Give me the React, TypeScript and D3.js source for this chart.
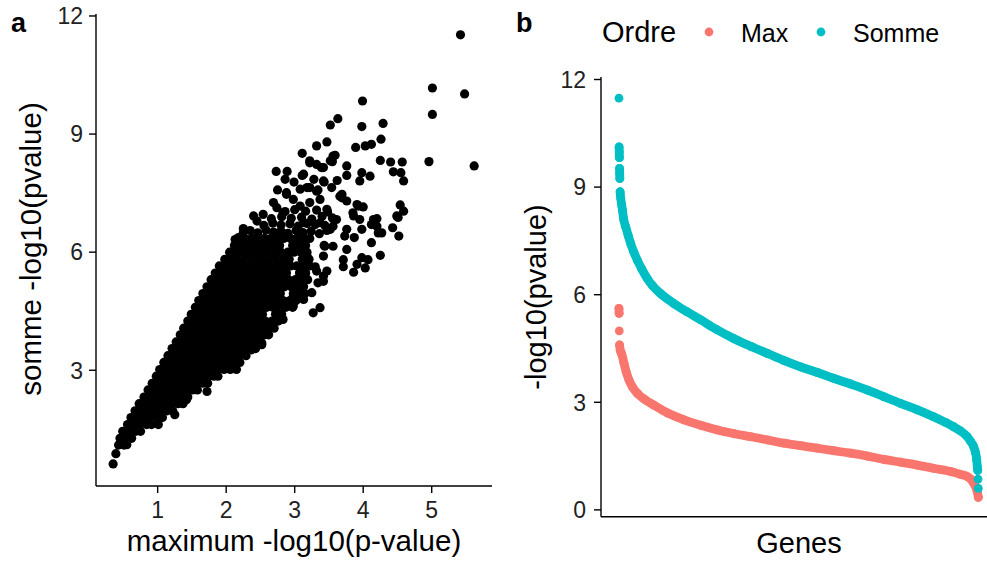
import React from "react";
import * as d3 from "d3";

// ---------- Panel a data ----------
const denseRowY: number[] = [1.10, 1.27, 1.45, 1.62, 1.80, 1.97, 2.15, 2.32, 2.50, 2.67, 2.85, 3.02, 3.20, 3.37, 3.55, 3.72, 3.90, 4.07, 4.25, 4.42, 4.60, 4.77, 4.95, 5.12, 5.30, 5.47, 5.65, 5.82, 6.00, 6.17, 6.35];
const denseRowX: number[][] = [
  [0.43, 0.51],
  [0.45, 0.54, 0.62],
  [0.49, 0.59, 0.68, 0.75],
  [0.56, 0.65, 0.74, 0.84, 0.91],
  [0.61, 0.71, 0.80, 0.89, 0.99, 1.07],
  [0.67, 0.77, 0.86, 0.95, 1.05, 1.14, 1.22],
  [0.73, 0.83, 0.92, 1.02, 1.11, 1.20, 1.30, 1.37],
  [0.80, 0.89, 0.98, 1.08, 1.17, 1.27, 1.36, 1.44],
  [0.86, 0.95, 1.05, 1.14, 1.23, 1.33, 1.42, 1.51, 1.58],
  [0.92, 1.01, 1.10, 1.20, 1.29, 1.39, 1.48, 1.57, 1.66, 1.73],
  [0.98, 1.07, 1.16, 1.26, 1.35, 1.45, 1.54, 1.64, 1.73, 1.82, 1.88],
  [1.03, 1.12, 1.22, 1.31, 1.41, 1.50, 1.60, 1.69, 1.79, 1.88, 1.97, 2.06],
  [1.09, 1.18, 1.28, 1.37, 1.47, 1.56, 1.66, 1.75, 1.85, 1.94, 2.04, 2.13, 2.20],
  [1.15, 1.24, 1.34, 1.43, 1.53, 1.62, 1.72, 1.81, 1.91, 2.00, 2.10, 2.19, 2.29],
  [1.21, 1.30, 1.40, 1.49, 1.59, 1.68, 1.78, 1.87, 1.97, 2.06, 2.16, 2.25, 2.35, 2.43],
  [1.27, 1.36, 1.46, 1.55, 1.65, 1.74, 1.84, 1.93, 2.03, 2.12, 2.22, 2.31, 2.41, 2.50],
  [1.33, 1.42, 1.51, 1.61, 1.70, 1.80, 1.89, 1.99, 2.08, 2.18, 2.27, 2.37, 2.46, 2.56, 2.62],
  [1.38, 1.47, 1.57, 1.66, 1.76, 1.85, 1.95, 2.04, 2.14, 2.23, 2.33, 2.42, 2.52, 2.61, 2.70],
  [1.44, 1.53, 1.62, 1.72, 1.81, 1.91, 2.00, 2.10, 2.19, 2.29, 2.38, 2.48, 2.57, 2.67, 2.76],
  [1.49, 1.58, 1.68, 1.77, 1.87, 1.96, 2.06, 2.15, 2.25, 2.34, 2.44, 2.53, 2.72, 2.81],
  [1.55, 1.64, 1.73, 1.83, 1.92, 2.02, 2.11, 2.21, 2.30, 2.40, 2.49, 2.59, 2.68, 2.78, 2.87, 2.97],
  [1.60, 1.69, 1.79, 1.88, 1.98, 2.07, 2.17, 2.26, 2.36, 2.45, 2.55, 2.64, 2.74, 2.83, 2.93, 3.02],
  [1.66, 1.75, 1.84, 1.94, 2.03, 2.13, 2.22, 2.32, 2.41, 2.51, 2.60, 2.70, 2.79, 2.98, 3.07, 3.15],
  [1.72, 1.81, 1.90, 2.00, 2.09, 2.19, 2.28, 2.38, 2.47, 2.57, 2.66, 2.76, 2.85, 2.95, 3.04, 3.13],
  [1.78, 1.87, 1.96, 2.06, 2.15, 2.25, 2.34, 2.44, 2.53, 2.63, 2.72, 2.82, 2.91, 3.01, 3.10, 3.19],
  [1.84, 1.93, 2.02, 2.12, 2.21, 2.31, 2.40, 2.50, 2.59, 2.69, 2.78, 2.88, 3.07, 3.16],
  [1.90, 1.99, 2.08, 2.18, 2.27, 2.37, 2.46, 2.56, 2.65, 2.75, 2.84, 2.94, 3.03, 3.13, 3.22],
  [1.98, 2.07, 2.16, 2.26, 2.35, 2.45, 2.54, 2.64, 2.73, 2.83, 2.92, 3.11, 3.21],
  [2.05, 2.14, 2.23, 2.33, 2.42, 2.52, 2.61, 2.71, 2.80, 2.90, 2.99, 3.09, 3.18],
  [2.12, 2.21, 2.30, 2.40, 2.49, 2.59, 2.68, 2.78, 2.97, 3.06, 3.16],
  [2.18, 2.27, 2.37, 2.46, 2.56, 2.65, 2.75, 2.84, 2.94, 3.03, 3.13, 3.22],
];

const sparsePoints: [number, number][] = [
  [0.35, 0.62], [0.39, 0.88], [0.55, 1.11], [1.01, 1.62], [1.25, 1.87], [1.42, 2.25], [1.72, 2.46],
  [2.15, 3.02], [2.52, 3.65], [2.37, 3.52], [2.52, 3.69], [2.83, 4.29], [2.79, 4.41], [2.98, 4.63], [2.98, 4.88],
  [3.13, 4.80], [3.25, 4.97], [3.37, 4.59], [3.27, 4.46], [3.34, 5.22], [3.42, 5.39], [3.42, 5.26],
  [3.47, 5.52], [3.32, 5.52], [3.30, 5.63], [3.18, 5.90], [3.42, 5.90], [3.71, 5.63], [3.71, 5.81],
  [3.76, 6.07], [3.86, 5.49], [3.91, 5.69], [3.98, 5.86], [4.03, 5.60], [4.07, 5.81], [4.25, 5.92],
  [3.44, 6.15], [3.56, 6.15], [3.43, 6.17], [4.12, 6.24], [3.73, 6.41], [3.87, 6.37], [4.22, 6.49],
  [4.27, 6.49], [4.52, 6.41], [3.76, 6.58], [3.98, 6.58], [3.52, 6.58], [3.56, 6.66], [4.20, 6.66],
  [4.43, 6.62], [4.12, 6.70], [3.37, 6.75], [3.13, 6.75], [3.61, 6.83], [3.95, 6.83], [4.15, 6.83],
  [4.20, 6.85], [3.86, 6.92], [4.49, 6.92], [4.51, 6.88], [3.85, 7.00], [4.59, 7.04], [3.47, 7.09],
  [3.08, 7.17], [3.93, 7.17], [4.00, 7.15], [4.54, 7.20], [3.91, 7.21], [3.22, 7.26], [2.98, 7.34],
  [3.37, 7.34], [3.76, 7.30], [3.69, 7.38], [3.66, 7.42], [3.69, 7.47],
  [2.25, 6.60], [2.13, 6.32], [2.18, 6.37], [2.45, 6.79], [2.40, 6.92], [2.54, 6.96], [2.69, 7.26],
  [2.74, 7.13], [2.83, 7.00], [2.75, 7.58], [2.88, 7.51], [2.88, 7.47], [3.08, 7.60], [3.18, 7.64],
  [3.22, 7.64], [3.32, 7.55], [3.34, 7.58], [3.54, 7.64], [2.73, 8.05], [2.89, 8.05], [2.86, 7.85],
  [2.99, 7.78], [3.11, 7.95], [3.13, 7.98], [3.28, 7.85], [3.42, 7.81], [3.43, 7.78], [3.62, 7.82],
  [3.39, 8.15], [3.42, 8.15], [3.22, 8.27], [3.22, 8.32], [3.32, 8.23], [3.52, 8.32], [3.55, 8.30],
  [3.56, 8.44], [3.59, 8.46], [3.11, 8.51], [3.32, 8.70], [3.47, 8.80], [3.52, 9.23], [3.63, 9.39],
  [3.76, 8.19], [3.76, 7.95], [3.95, 7.81], [3.98, 8.02], [4.10, 7.93], [3.89, 8.66], [4.03, 8.70],
  [4.12, 8.74], [4.26, 8.87], [3.98, 9.19], [4.29, 9.27], [3.99, 9.84], [4.25, 8.33], [4.40, 8.29],
  [4.57, 8.29], [4.44, 8.04], [4.55, 8.02], [4.59, 7.81],
  [4.96, 8.30], [5.62, 8.19], [5.01, 9.50], [5.01, 10.17], [5.48, 10.02], [5.42, 11.52],
  [2.25, 6.50], [2.35, 6.55], [2.46, 6.49], [2.58, 6.56], [2.69, 6.51], [2.80, 6.54], [2.90, 6.48],
  [3.02, 6.55], [3.12, 6.50], [3.24, 6.53], [3.36, 6.47], [3.47, 6.55],
  [2.55, 6.68], [2.68, 6.74], [2.80, 6.69], [2.93, 6.72], [3.05, 6.66], [3.18, 6.73], [3.30, 6.70], [3.44, 6.68],
  [2.66, 6.85], [2.81, 6.90], [2.95, 6.86], [3.10, 6.89], [3.25, 6.84], [3.40, 6.91], [3.55, 6.87],
  [2.86, 7.03], [3.00, 7.08], [3.16, 7.04], [3.32, 7.07], [3.48, 7.02],
];

const xTicksA = [1, 2, 3, 4, 5];
const yTicksA = [3, 6, 9, 12];

// ---------- Panel b data (genes ranked, N = 2500) ----------
const geneCount = 2500;
const maxRank: number[] = [1, 2, 3, 5, 10, 20, 36, 51, 71, 96, 129, 180, 245, 340, 453, 569, 685, 798, 917, 1035, 1148, 1264, 1380, 1493, 1611, 1730, 1843, 1959, 2075, 2188, 2307, 2376, 2423, 2449, 2468, 2484, 2492, 2500];
const maxValue: number[] = [5.62, 5.48, 4.99, 4.60, 4.45, 4.35, 4.09, 3.85, 3.62, 3.42, 3.25, 3.08, 2.92, 2.70, 2.51, 2.36, 2.23, 2.13, 2.04, 1.95, 1.86, 1.79, 1.72, 1.65, 1.58, 1.50, 1.41, 1.33, 1.25, 1.16, 1.07, 0.99, 0.93, 0.85, 0.74, 0.62, 0.51, 0.35];
const sommeRank: number[] = [1, 2, 3, 4, 5, 6, 7, 9, 13, 20, 25, 34, 48, 65, 82, 103, 129, 159, 198, 235, 291, 381, 472, 569, 680, 798, 917, 1035, 1146, 1264, 1382, 1493, 1611, 1730, 1841, 1959, 2077, 2188, 2272, 2327, 2376, 2423, 2445, 2468, 2480, 2489, 2493, 2496, 2498, 2500];
const sommeValue: number[] = [11.48, 10.12, 9.98, 9.82, 9.52, 9.38, 9.24, 8.87, 8.70, 8.50, 8.36, 8.10, 7.89, 7.65, 7.43, 7.20, 6.96, 6.72, 6.45, 6.25, 6.03, 5.76, 5.53, 5.30, 5.03, 4.78, 4.56, 4.36, 4.17, 3.99, 3.83, 3.67, 3.51, 3.34, 3.16, 2.97, 2.79, 2.60, 2.44, 2.32, 2.20, 2.04, 1.92, 1.76, 1.60, 1.39, 1.20, 1.10, 0.86, 0.60];
const yTicksB = [0, 3, 6, 9, 12];

const seriesNames = ["Max", "Somme"];
const seriesColors = ["#F8766D", "#00BFC4"];

const FONT = "'Liberation Sans', Arial, Helvetica, sans-serif";

// Consecutive ranked genes form a continuous band of dots: join two sampled
// points when genes lie between them (rank gap > 2) or when their dots touch.
function joinSegments(pts: [number, number][], ranks: number[], maxGap: number): [number, number][][] {
  const segs: [number, number][][] = [];
  let cur: [number, number][] = [pts[0]];
  for (let i = 1; i < pts.length; i++) {
    const dy = Math.abs(pts[i][1] - pts[i - 1][1]);
    const dr = ranks[i] - ranks[i - 1];
    if (dr > 2 || dy <= maxGap) cur.push(pts[i]);
    else {
      segs.push(cur);
      cur = [pts[i]];
    }
  }
  segs.push(cur);
  return segs;
}

export default function App() {
  // Panel a scales
  const xA = d3.scaleLinear().domain([0.1, 5.88]).range([96, 492]);
  const yA = d3.scaleLinear().domain([0.06, 12.05]).range([486, 14]);
  const rA = 4.6;

  const scatter: [number, number][] = [];
  denseRowY.forEach((y, i) => denseRowX[i].forEach((x) => scatter.push([x, y])));
  sparsePoints.forEach((p) => scatter.push(p));

  // Panel b scales
  const pad = 0.05 * (geneCount - 1);
  const xB = d3.scaleLinear().domain([1 - pad, geneCount + pad]).range([601, 996.3]);
  const yB = d3.scaleLinear().domain([-0.19, 12.07]).range([516.7, 77]);
  const rB = 4.4;

  const series = [
    { name: seriesNames[0], color: seriesColors[0], rank: maxRank, value: maxValue },
    { name: seriesNames[1], color: seriesColors[1], rank: sommeRank, value: sommeValue },
  ];
  const line = d3.line<[number, number]>().x((d) => d[0]).y((d) => d[1]).curve(d3.curveMonotoneX);

  const tickColor = "#222";
  const axisW = 1.4;

  return (
    <svg width={987} height={564} style={{ position: "absolute", left: 0, top: 0, background: "#fff" }} fontFamily={FONT}>
      <rect x={0} y={0} width={987} height={564} fill="#fff" />
      {/* ---------- Panel a ---------- */}
      <text x={11} y={32} fontSize={27} fontWeight="bold" fill="#000">a</text>
      <g>
        {scatter.map((d, i) => (
          <circle key={i} cx={xA(d[0])} cy={yA(d[1])} r={rA} fill="#000" />
        ))}
      </g>
      <line x1={96} x2={96} y1={yA.range()[1]} y2={486} stroke="#000" strokeWidth={axisW} />
      <line x1={96} x2={492} y1={486} y2={486} stroke="#000" strokeWidth={axisW} />
      {yTicksA.map((t) => (
        <g key={"ya" + t}>
          <line x1={89} x2={96} y1={yA(t)} y2={yA(t)} stroke="#000" strokeWidth={axisW} />
          <text x={83} y={yA(t)} dy="0.36em" textAnchor="end" fontSize={23} fill={tickColor}>{t}</text>
        </g>
      ))}
      {xTicksA.map((t) => (
        <g key={"xa" + t}>
          <line x1={xA(t)} x2={xA(t)} y1={486} y2={493} stroke="#000" strokeWidth={axisW} />
          <text x={xA(t)} y={518} textAnchor="middle" fontSize={23} fill={tickColor}>{t}</text>
        </g>
      ))}
      <text x={294} y={551} textAnchor="middle" fontSize={29.5} fill="#000">maximum -log10(p-value)</text>
      <text transform={`translate(41,249) rotate(-90)`} textAnchor="middle" fontSize={29.5} fill="#000">somme -log10(pvalue)</text>

      {/* ---------- Panel b ---------- */}
      <text x={516} y={32} fontSize={27} fontWeight="bold" fill="#000">b</text>
      <text x={602} y={42} fontSize={29} fill="#000">Ordre</text>
      <circle cx={709} cy={32} r={rB} fill={seriesColors[0]} />
      <text x={741} y={42} fontSize={25} fill="#000">{seriesNames[0]}</text>
      <circle cx={821} cy={32} r={rB} fill={seriesColors[1]} />
      <text x={853} y={42} fontSize={25} fill="#000">{seriesNames[1]}</text>

      {series.map((s) => {
        const pts: [number, number][] = s.rank.map((r, i) => [xB(r), yB(s.value[i])]);
        const segs = joinSegments(pts, s.rank, 8.5).filter((sg) => sg.length > 1);
        return (
          <g key={s.name}>
            {segs.map((sg, j) => (
              <path key={j} d={line(sg) || ""} fill="none" stroke={s.color} strokeWidth={2 * rB} strokeLinecap="round" strokeLinejoin="round" />
            ))}
            {pts.map((p, i) => (
              <circle key={i} cx={p[0]} cy={p[1]} r={rB} fill={s.color} />
            ))}
          </g>
        );
      })}

      <line x1={601} x2={601} y1={77} y2={516.7} stroke="#000" strokeWidth={axisW} />
      <line x1={601} x2={996} y1={516.7} y2={516.7} stroke="#000" strokeWidth={axisW} />
      {yTicksB.map((t) => (
        <g key={"yb" + t}>
          <line x1={594} x2={601} y1={yB(t)} y2={yB(t)} stroke="#000" strokeWidth={axisW} />
          <text x={586} y={yB(t)} dy="0.36em" textAnchor="end" fontSize={23} fill={tickColor}>{t}</text>
        </g>
      ))}
      <text x={799} y={553} textAnchor="middle" fontSize={29} fill="#000">Genes</text>
      <text transform={`translate(546,297) rotate(-90)`} textAnchor="middle" fontSize={29} fill="#000">-log10(pvalue)</text>
    </svg>
  );
}
